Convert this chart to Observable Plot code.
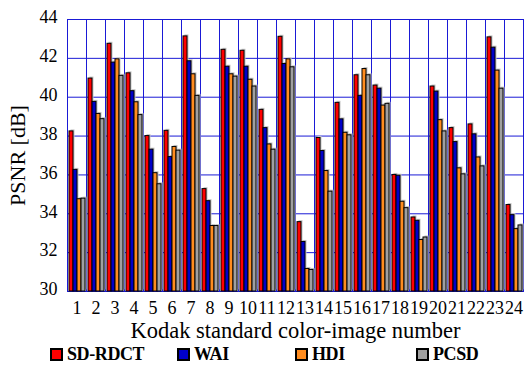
<!DOCTYPE html>
<html><head><meta charset="utf-8">
<script src="https://cdn.jsdelivr.net/npm/d3@7"></script>
<script src="https://cdn.jsdelivr.net/npm/@observablehq/plot@0.6"></script>
<style>
body{margin:0;background:#fff;font-family:"Liberation Serif",serif;}
#chart svg{display:block}
#legend{display:flex;margin-left:50px;height:18px;align-items:center;font-weight:bold;font-size:18px;letter-spacing:-0.4px;color:#000}
.item{display:flex;align-items:center}
.sw{width:9px;height:9px;border:2px solid #000;margin-right:4px}
</style></head><body><div id="chart"></div><div id="legend"></div>
<script>
const images = d3.range(1, 25);
const series = ["SD-RDCT", "WAI", "HDI", "PCSD"];
const colors = ["#ff0000", "#0000c8", "#ff8c1f", "#a0a0a0"];
const yTicks = [30, 32, 34, 36, 38, 40, 42, 44];
const sdrdct = [38.24,40.96,42.75,41.23,38.0,38.27,43.13,35.27,42.44,42.39,39.35,43.11,33.57,37.9,39.71,41.13,40.6,36.0,33.81,40.55,38.41,38.6,43.08,34.45];
const wai    = [36.26,39.76,41.78,40.31,37.3,36.92,41.85,34.65,41.57,41.57,38.41,41.71,32.55,37.23,38.86,40.07,40.44,35.96,33.64,40.29,37.69,38.09,42.55,33.93];
const hdi    = [34.75,39.14,41.95,39.74,36.09,37.44,41.18,33.37,41.18,40.9,37.57,41.95,31.16,36.2,38.17,41.45,39.57,34.62,32.65,38.82,36.34,36.9,41.37,33.21];
const pcsd   = [34.78,38.87,41.1,39.08,35.52,37.25,40.07,33.37,41.06,40.55,37.3,41.54,31.11,35.14,38.04,41.13,39.66,34.29,32.78,38.24,36.03,36.44,40.44,33.4];
const values = [sdrdct, wai, hdi, pcsd];
const legendWidths = [127, 118, 121, 100];

const data = [];
images.forEach((img, i) => series.forEach((s, j) => data.push({img, series: s, value: values[j][i]})));

const chart = Plot.plot({
  width: 526, height: 345, marginTop: 19, marginLeft: 64, marginRight: 1, marginBottom: 54,
  style: {fontFamily: "Liberation Serif", background: "#fff"},
  fx: {domain: images, padding: 0, label: null},
  x: {domain: series, paddingInner: 0, paddingOuter: 0.26, axis: null},
  y: {domain: [30, 44]},
  color: {domain: series, range: colors},
  marks: [
    Plot.frame({stroke: "#1a1ad6"}),
    Plot.gridY(yTicks, {stroke: "#1a1ad6", strokeOpacity: 1}),
    Plot.barY(data, {fx: "img", x: "series", y1: 30, y2: "value", fill: "#c4c4c4", dx: 1.5, dy: -1.5}),
    Plot.barY(data, {fx: "img", x: "series", y1: 30, y2: "value", fill: "series", stroke: "#000", strokeWidth: 1}),
    Plot.axisY(yTicks, {tickSize: 0, tickPadding: 10, fontSize: 18, dy: -2, label: null}),
    Plot.axisY({ticks: [], label: "PSNR [dB]", labelArrow: false, labelAnchor: "center", fontSize: 22, labelOffset: 58}),
    Plot.axisFx({anchor: "bottom", tickSize: 0, tickPadding: 10, fontSize: 18, label: null}),
    Plot.axisFx({anchor: "bottom", ticks: [], label: "Kodak standard color-image number", labelArrow: false, labelAnchor: "center", fontSize: 22.5, labelOffset: 46})
  ]
});
document.getElementById("chart").appendChild(chart);

const legend = document.getElementById("legend");
series.forEach((s, j) => {
  const item = document.createElement("div");
  item.className = "item";
  item.style.width = legendWidths[j] + "px";
  const sw = document.createElement("span");
  sw.className = "sw";
  sw.style.background = colors[j];
  const t = document.createElement("span");
  t.textContent = s;
  item.appendChild(sw); item.appendChild(t);
  legend.appendChild(item);
});
</script></body></html>
